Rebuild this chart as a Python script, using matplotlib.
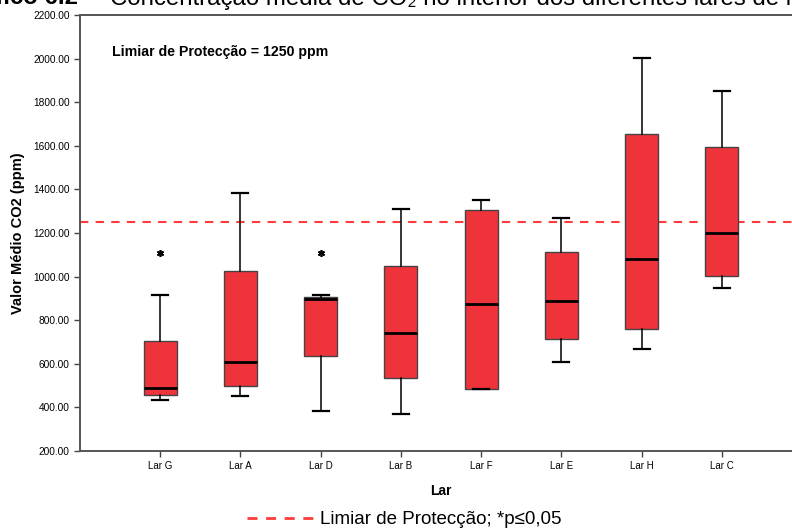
import matplotlib
matplotlib.use("Agg")
import matplotlib.pyplot as plt
from matplotlib.lines import Line2D

# values (ppm)
lares = ["Lar G", "Lar A", "Lar D", "Lar B", "Lar F", "Lar E", "Lar H", "Lar C"]
whisk_lo = [435, 452, 383, 372, 483, 608, 667, 946]
q1 = [459, 499, 638, 536, 485, 713, 759, 1002]
median = [487, 608, 898, 742, 875, 889, 1079, 1200]
q3 = [704, 1027, 906, 1047, 1304, 1114, 1654, 1594]
whisk_hi = [917, 1382, 915, 1311, 1350, 1267, 2004, 1853]
extremos = {"Lar G": [1110], "Lar D": [1106]}
limiar = 1250
yticks = [200, 400, 600, 800, 1000, 1200, 1400, 1600, 1800, 2000, 2200]

W, H = 792, 528
fig = plt.figure(figsize=(W / 100, H / 100), dpi=100)
ax = fig.add_axes([80 / W, 77 / H, 722 / W, 436 / H])

stats = []
for i, lar in enumerate(lares):
    stats.append(dict(label=lar, whislo=whisk_lo[i], q1=q1[i], med=median[i],
                      q3=q3[i], whishi=whisk_hi[i], fliers=[]))

pos = list(range(1, len(lares) + 1))
ax.bxp(stats, positions=pos, widths=0.41, patch_artist=True, showfliers=False,
       boxprops=dict(facecolor="#EE333B", edgecolor="#444444", linewidth=1.0),
       medianprops=dict(color="black", linewidth=2.0),
       whiskerprops=dict(color="black", linewidth=1.1),
       capprops=dict(color="black", linewidth=1.6),
       capwidths=0.2)

for lar, vals in extremos.items():
    x = lares.index(lar) + 1
    for v in vals:
        ax.plot([x], [v], marker=(6, 2, 0), color="black", markersize=5,
                markeredgewidth=1.2, linestyle="none")

ax.axhline(limiar, color="#FF3B3B", linestyle=(0, (4, 3.5)), linewidth=1.5, zorder=0.5)

ax.set_xlim(0, len(lares) + 1)
ax.set_ylim(200, 2200)
ax.set_xticks(pos)
ax.set_xticklabels(lares, fontsize=7, family="Liberation Sans")
ax.set_yticks(yticks)
ax.set_yticklabels([f"{v:.2f}" for v in yticks], fontsize=7.3, family="Liberation Sans")
ax.tick_params(direction="out", length=4, color="#444444", width=1)
for s in ["left", "bottom", "top", "right"]:
    ax.spines[s].set_color("#555555")
    ax.spines[s].set_linewidth(1.4)

ax.set_xlabel("Lar", fontsize=10, fontweight="bold", family="Liberation Sans", labelpad=9)
ax.set_ylabel("Valor Médio CO2 (ppm)", fontsize=10.5, fontweight="bold",
              family="Liberation Sans", labelpad=6)

ax.text(0.045, 0.915, "Limiar de Protecção = 1250 ppm", transform=ax.transAxes,
        fontsize=10.2, fontweight="bold", family="Liberation Sans",
        va="center", ha="left")

# title, cut by the top edge as in the reference
ty = 1 - 4.5 / H
fig.text(78 / W, ty, "Gráfico 6.2", fontsize=17.3, fontweight="bold",
         family="Liberation Sans", ha="right", va="baseline")
fig.text(94 / W, ty, "–", fontsize=17.3, family="Liberation Sans", ha="center", va="baseline")
fig.text(110 / W, ty, "Concentração média de CO\u2082 no interior dos diferentes lares de idosos",
         fontsize=17.3, family=["Liberation Sans", "DejaVu Sans"], ha="left", va="baseline")

# legend line at the bottom
fig.add_artist(Line2D([247 / W, 313 / W], [1 - 518 / H, 1 - 518 / H], transform=fig.transFigure,
                      color="#FF3B3B", linestyle=(0, (3.6, 3.1)), linewidth=2.0))
fig.text(320 / W, 1 - 519 / H, "Limiar de Protecção; *p≤0,05", fontsize=13.5,
         family=["Liberation Sans", "DejaVu Sans"], ha="left", va="center")

fig.savefig("out.png", dpi=100)
